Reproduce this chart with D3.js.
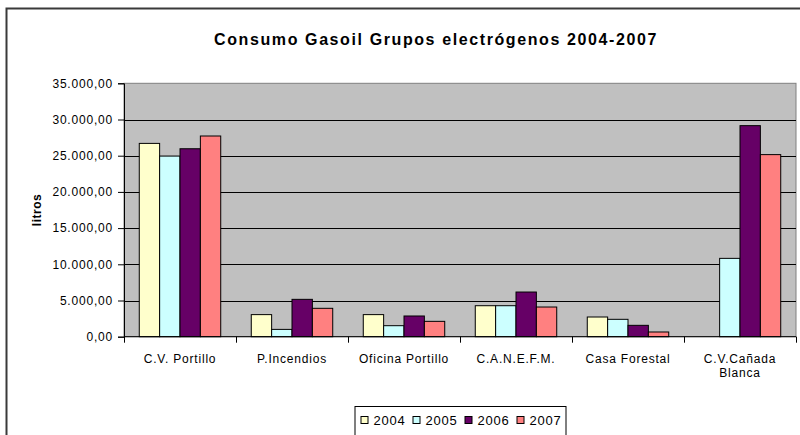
<!DOCTYPE html>
<html>
<head>
<meta charset="utf-8">
<script src="https://cdn.jsdelivr.net/npm/d3@7"></script>
<style>
  html, body { margin: 0; padding: 0; background: #fff; }
  svg { display: block; font-family: "Liberation Sans", Arial, sans-serif; }
</style>
</head>
<body>
<svg id="chart" width="800" height="435"></svg>
<script>
// ---- data ----
const categories = ["C.V. Portillo", "P.Incendios", "Oficina Portillo", "C.A.N.E.F.M.", "Casa Forestal", "C.V.Cañada Blanca"];
const years = ["2004", "2005", "2006", "2007"];
const values2004 = [26700, 3050, 3050, 4280, 2720, 0];
const values2005 = [24950, 1010, 1520, 4280, 2400, 10820];
const values2006 = [25960, 5160, 2860, 6170, 1570, 29150];
const values2007 = [27720, 3920, 2120, 4100, 650, 25150];
const yTicks = [0, 5000, 10000, 15000, 20000, 25000, 30000, 35000];
const colors = ["#FFFFCC", "#CCFFFF", "#660066", "#FF8080"];
const titleText = "Consumo Gasoil Grupos electrógenos 2004-2007";
const yTitle = "litros";

const series = [values2004, values2005, values2006, values2007];

// ---- layout ----
const FONT = "'Liberation Sans', Arial, sans-serif";
const plot = { left: 124, right: 796, top: 83.3, bottom: 336.7 };

const svg = d3.select("#chart");

// outer chart frame
svg.append("rect")
  .attr("x", 6.5).attr("y", 8.5)
  .attr("width", 820).attr("height", 460)
  .attr("fill", "#fff")
  .attr("stroke", "#3a3a3a").attr("stroke-width", 2);

const x0 = d3.scaleBand().domain(categories).range([plot.left, plot.right]).paddingInner(0).paddingOuter(0);
const x1 = d3.scaleBand().domain(years).range([0, x0.bandwidth()]).paddingInner(0).paddingOuter(0.75);
const y = d3.scaleLinear().domain([0, d3.max(yTicks)]).range([plot.bottom, plot.top]);

const locale = d3.formatLocale({ decimal: ",", thousands: ".", grouping: [3], currency: ["", ""] });
const fmt = locale.format(",.2f");

// plot area background
svg.append("rect")
  .attr("x", plot.left).attr("y", plot.top)
  .attr("width", plot.right - plot.left).attr("height", plot.bottom - plot.top)
  .attr("fill", "#C0C0C0")
  .attr("stroke", "#808080").attr("stroke-width", 1);

// gridlines
svg.append("g").selectAll("line")
  .data(yTicks.filter(t => t > 0 && t < d3.max(yTicks)))
  .join("line")
  .attr("x1", plot.left).attr("x2", plot.right)
  .attr("y1", d => Math.round(y(d)) + 0.5).attr("y2", d => Math.round(y(d)) + 0.5)
  .attr("stroke", "#000").attr("stroke-width", 1);

// bars
const groups = svg.append("g").selectAll("g")
  .data(categories)
  .join("g")
  .attr("transform", d => `translate(${x0(d)},0)`);

groups.selectAll("rect")
  .data((c, ci) => years.map((yr, si) => ({ yr, si, v: series[si][ci] })).filter(d => d.v > 0))
  .join("rect")
  .attr("x", d => x1(d.yr))
  .attr("width", x1.bandwidth())
  .attr("y", d => y(d.v))
  .attr("height", d => y(0) - y(d.v))
  .attr("fill", d => colors[d.si])
  .attr("stroke", "#000").attr("stroke-width", 1);

// y axis
const yAxis = svg.append("g")
  .attr("transform", `translate(${plot.left},0)`)
  .call(d3.axisLeft(y).tickValues(yTicks).tickFormat(fmt).tickSize(6).tickPadding(5));
yAxis.select(".domain").attr("stroke", "#000");
yAxis.selectAll(".tick line").attr("stroke", "#000");
yAxis.selectAll("text")
  .attr("fill", "#000")
  .style("font-size", "12px")
  .style("letter-spacing", "0.8px")
  .style("font-family", FONT);

// x axis line + boundary ticks
svg.append("line")
  .attr("x1", plot.left).attr("x2", plot.right)
  .attr("y1", plot.bottom).attr("y2", plot.bottom)
  .attr("stroke", "#000");
const boundaries = categories.map(c => x0(c)).concat([x0.range()[1]]);
svg.append("g").selectAll("line")
  .data(boundaries)
  .join("line")
  .attr("x1", d => Math.round(d) + 0.5).attr("x2", d => Math.round(d) + 0.5)
  .attr("y1", plot.bottom).attr("y2", plot.bottom + 6)
  .attr("stroke", "#000");

// category labels with wrapping
const catLabels = svg.append("g")
  .style("font-size", "12px")
  .style("letter-spacing", "0.8px")
  .style("font-family", FONT)
  .selectAll("text")
  .data(categories)
  .join("text")
  .attr("x", d => x0(d) + x0.bandwidth() / 2)
  .attr("y", plot.bottom + 26)
  .attr("text-anchor", "middle")
  .attr("fill", "#000")
  .text(d => d);

catLabels.each(function (d) {
  const t = d3.select(this);
  if (this.getComputedTextLength() > x0.bandwidth() - 4) {
    const words = d.split(" ");
    const cx = x0(d) + x0.bandwidth() / 2;
    t.text(null);
    t.append("tspan").attr("x", cx).attr("dy", 0).text(words.slice(0, -1).join(" "));
    t.append("tspan").attr("x", cx).attr("dy", 14).text(words[words.length - 1]);
  }
});

// title
svg.append("text")
  .attr("x", 436).attr("y", 45)
  .attr("text-anchor", "middle")
  .style("font-size", "16px")
  .style("font-weight", "bold")
  .style("letter-spacing", "1.6px")
  .style("font-family", FONT)
  .attr("fill", "#000")
  .text(titleText);

// y title
svg.append("text")
  .attr("transform", `translate(41,${(plot.top + plot.bottom) / 2}) rotate(-90)`)
  .attr("text-anchor", "middle")
  .style("font-size", "12px")
  .style("font-weight", "bold")
  .style("letter-spacing", "0.5px")
  .style("font-family", FONT)
  .attr("fill", "#000")
  .text(yTitle);

// legend
const legW = 211, legH = 29;
const legX = (plot.left + plot.right) / 2 - legW / 2;
const legY = 406;
const leg = svg.append("g").attr("transform", `translate(${legX},${legY})`);
leg.append("rect")
  .attr("x", 0.5).attr("y", 0.5).attr("width", legW).attr("height", legH)
  .attr("fill", "#fff").attr("stroke", "#000");
const legItem = leg.selectAll("g.item")
  .data(years)
  .join("g")
  .attr("class", "item")
  .attr("transform", (d, i) => `translate(${6 + i * 52},0)`);
legItem.append("rect")
  .attr("x", 0.5).attr("y", 10.5).attr("width", 7).attr("height", 7)
  .attr("fill", (d, i) => colors[i]).attr("stroke", "#000");
legItem.append("text")
  .attr("x", 13).attr("y", 19)
  .style("font-size", "13px")
  .style("letter-spacing", "0.8px")
  .style("font-family", FONT)
  .attr("fill", "#000")
  .text(d => d);
</script>
</body>
</html>
